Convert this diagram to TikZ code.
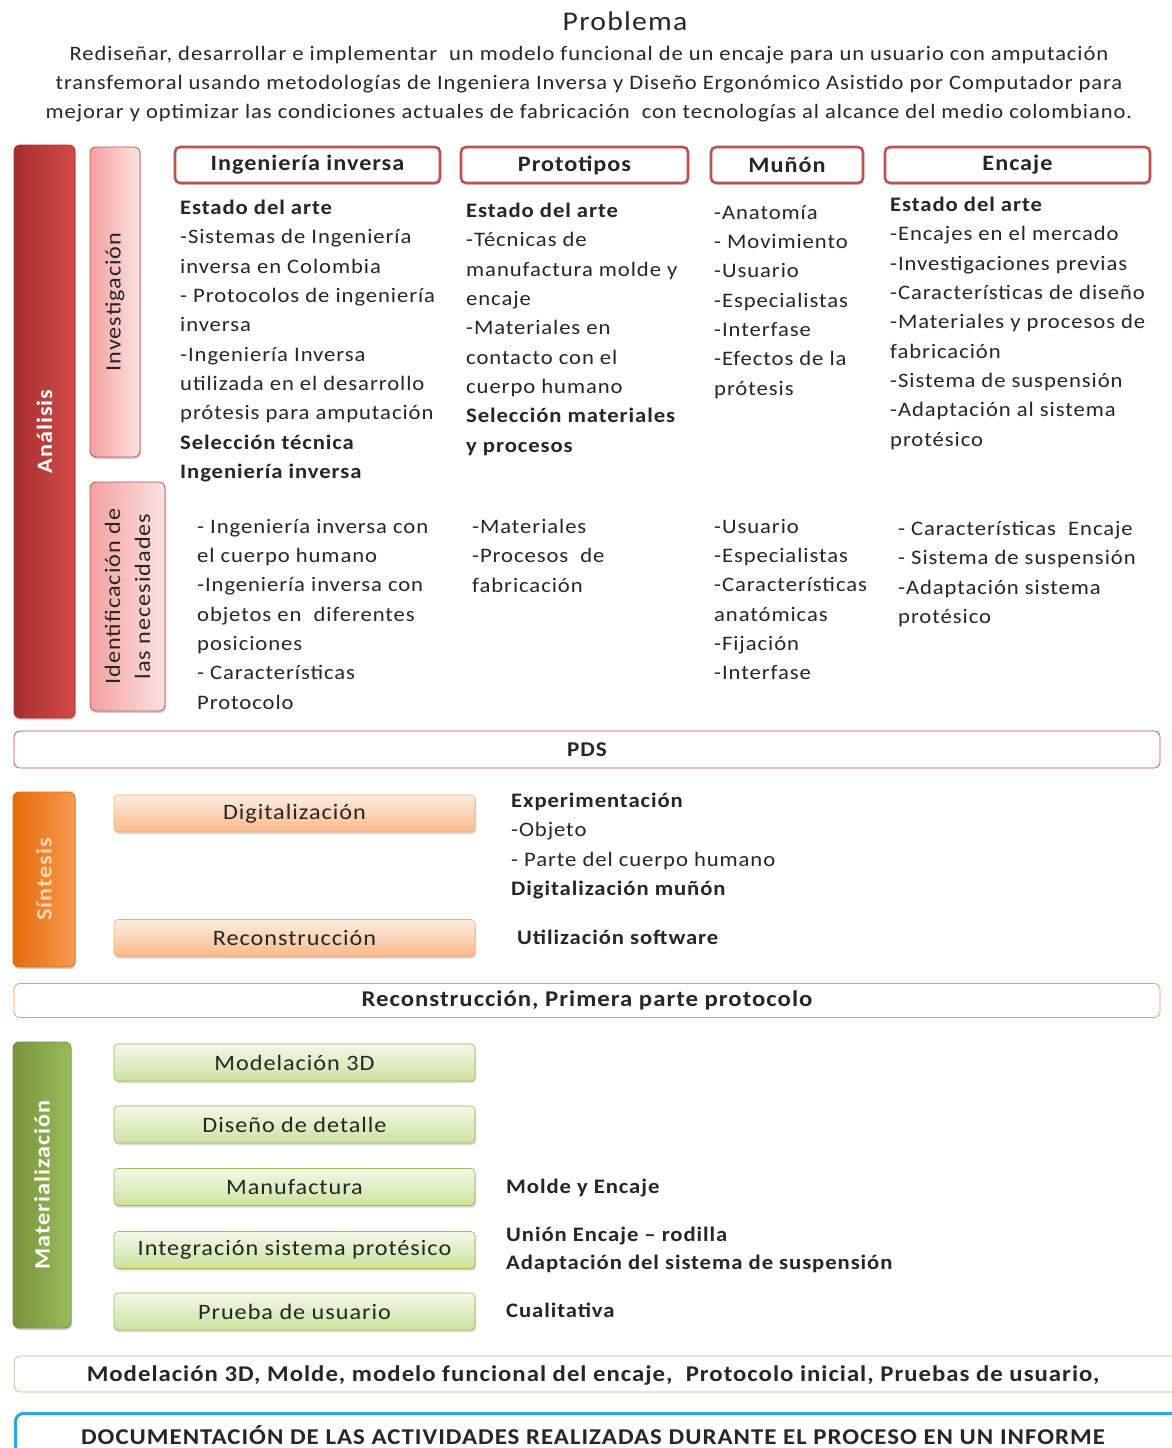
\documentclass[tikz,border=0pt]{standalone}
\usepackage{fontspec}
\setmainfont{Carlito}[FakeStretch=1.1, LetterSpace=4.5]
\usetikzlibrary{shadows}

\definecolor{txt}{HTML}{262626}
\definecolor{redD}{HTML}{A52F2D}
\definecolor{redM}{HTML}{D24C49}
\definecolor{redB}{HTML}{C0504D}
\definecolor{pinkL}{HTML}{FCE2E2}
\definecolor{pinkD}{HTML}{F4A0A0}
\definecolor{orD}{HTML}{E46C0A}
\definecolor{orM}{HTML}{F99A4E}
\definecolor{orT}{HTML}{FCD5B4}
\definecolor{peachL}{HTML}{FDEEE2}
\definecolor{peachD}{HTML}{FAB98A}
\definecolor{grD}{HTML}{77933C}
\definecolor{grM}{HTML}{9BBB59}
\definecolor{limeL}{HTML}{F4F9E8}
\definecolor{limeD}{HTML}{CCE2A0}
\definecolor{blueB}{HTML}{2AA7DE}

\tikzset{
  x=1pt, y=-1pt,
  every node/.style={text=txt, inner sep=0pt},
  body/.style={font=\fontsize{20.6}{29.3}\selectfont, align=left, anchor=north west},
  phasebar/.style={draw=#1, rounded corners=6pt, line width=0.8pt,
    drop shadow={opacity=0.35, shadow xshift=1pt, shadow yshift=-2pt}},
  phaselabel/.style={rotate=90, font=\fontsize{22}{26}\selectfont\bfseries},
  headbox/.style={draw=redB, line width=2.6pt, fill=white, rounded corners=5pt,
    minimum height=36pt, font=\fontsize{22}{26}\selectfont\bfseries,
    drop shadow={opacity=0.3, shadow xshift=1pt, shadow yshift=-2pt}},
  peachbox/.style={draw=orM!80, line width=0.6pt, rounded corners=4pt,
    top color=peachL, bottom color=peachD, minimum width=361pt, minimum height=37pt,
    font=\fontsize{22}{26}\selectfont,
    drop shadow={opacity=0.3, shadow xshift=1pt, shadow yshift=-2pt}},
  limebox/.style={draw=grM, line width=0.6pt, rounded corners=4pt,
    top color=limeL, bottom color=limeD, minimum width=361pt, minimum height=37pt,
    font=\fontsize{22}{26}\selectfont,
    drop shadow={opacity=0.3, shadow xshift=1pt, shadow yshift=-2pt}},
  sumbar/.style={draw=#1, line width=0.7pt, fill=white, rounded corners=6pt,
    font=\fontsize{22.5}{26}\selectfont\bfseries},
}

\begin{document}
\begin{tikzpicture}
\useasboundingbox[fill=white] (0,0) rectangle (1172,1448);

% Problem statement
\node[font=\fontsize{27}{30}\selectfont] (title) at (625,21) {Problema};
\node[font=\fontsize{20.5}{29}\selectfont, align=center] (problem) at (589,84)
  {Rediseñar, desarrollar e implementar\ \ un modelo funcional de un encaje para un usuario con amputación\\
   transfemoral usando metodologías de Ingeniera Inversa y Diseño Ergonómico Asistido por Computador para\\
   mejorar y optimizar las condiciones actuales de fabricación\ \ con tecnologías al alcance del medio colombiano.};

% ---------------- Análisis ----------------
\node[phasebar=redD, left color=redD, right color=redM,
      minimum width=61pt, minimum height=573pt] (analisis) at (44.5,431.5) {};
\node[phaselabel, text=white] (analisisT) at (analisis.center) {Análisis};

\node[phasebar=redB, left color=pinkD, right color=pinkL,
      minimum width=50pt, minimum height=310pt] (invest) at (115,302) {};
\node[rotate=90, font=\fontsize{22}{26}\selectfont] (investT) at (invest.center) {Investigación};

\node[phasebar=redB, left color=pinkD, right color=pinkL,
      minimum width=75pt, minimum height=229pt] (ident) at (127.5,596.5) {};
\node[rotate=90, font=\fontsize{22}{30}\selectfont, align=center] (identT) at (ident.center)
  {Identificación de\\las necesidades};

% column headers
\node[headbox, minimum width=265pt] (hIng) at (307.5,165) {Ingeniería inversa};
\node[headbox, minimum width=227pt] (hProt) at (574.5,165) {Prototipos};
\node[headbox, minimum width=152pt] (hMun) at (787,165) {Muñón};
\node[headbox, minimum width=265pt] (hEnc) at (1017.5,165) {Encaje};

% research contents
\node[body] (rIng) at (180,200) {\textbf{Estado del arte}\\
  -Sistemas de Ingeniería\\
  inversa en Colombia\\
  - Protocolos de ingeniería\\
  inversa\\
  -Ingeniería Inversa\\
  utilizada en el desarrollo\\
  prótesis para amputación\\
  \textbf{Selección técnica}\\
  \textbf{Ingeniería inversa}};
\node[body] (rProt) at (466,203) {\textbf{Estado del arte}\\
  -Técnicas de\\
  manufactura molde y\\
  encaje\\
  -Materiales en\\
  contacto con el\\
  cuerpo humano\\
  \textbf{Selección materiales}\\
  \textbf{y procesos}};
\node[body] (rMun) at (714,205) {-Anatomía\\
  - Movimiento\\
  -Usuario\\
  -Especialistas\\
  -Interfase\\
  -Efectos de la\\
  prótesis};
\node[body] (rEnc) at (890,197) {\textbf{Estado del arte}\\
  -Encajes en el mercado\\
  -Investigaciones previas\\
  -Características de diseño\\
  -Materiales y procesos de\\
  fabricación\\
  -Sistema de suspensión\\
  -Adaptación al sistema\\
  protésico};

% needs contents
\node[body] (nIng) at (197,519) {- Ingeniería inversa con\\
  el cuerpo humano\\
  -Ingeniería inversa con\\
  objetos en\ \ diferentes\\
  posiciones\\
  - Características\\
  Protocolo};
\node[body] (nProt) at (472,519) {-Materiales\\
  -Procesos\ \ de\\
  fabricación};
\node[body] (nMun) at (714,519) {-Usuario\\
  -Especialistas\\
  -Características\\
  anatómicas\\
  -Fijación\\
  -Interfase};
\node[body] (nEnc) at (898,521) {- Características\ \ Encaje\\
  - Sistema de suspensión\\
  -Adaptación sistema\\
  protésico};

\node[sumbar=redB, minimum width=1146pt, minimum height=37pt, font=\fontsize{21}{25}\selectfont\bfseries] (pds) at (587,749.5) {PDS};

% ---------------- Síntesis ----------------
\node[phasebar=orD, left color=orD, right color=orM,
      minimum width=62pt, minimum height=175pt] (sintesis) at (44,879.5) {};
\node[phaselabel, text=orT] (sintesisT) at (sintesis.center) {Síntesis};

\node[peachbox] (digit) at (294.5,813.5) {Digitalización};
\node[peachbox] (recon) at (294.5,938) {Reconstrucción};

\node[body] (digitT) at (511,793) {\textbf{Experimentación}\\
  -Objeto\\
  - Parte del cuerpo humano\\
  \textbf{Digitalización muñón}};
\node[body, font=\fontsize{20.6}{29.3}\selectfont\bfseries] (reconT) at (517,930) {Utilización software};

\node[sumbar=orM, minimum width=1146pt, minimum height=34pt] (reconbar) at (587,1000.5)
  {Reconstrucción, Primera parte protocolo};

% ---------------- Materialización ----------------
\node[phasebar=grD, left color=grD, right color=grM,
      minimum width=58pt, minimum height=286pt] (mater) at (42,1185) {};
\node[phaselabel, text=white] (materT) at (mater.center) {Materialización};

\node[limebox] (mod) at (294.5,1062.5) {Modelación 3D};
\node[limebox] (dis) at (294.5,1124.5) {Diseño de detalle};
\node[limebox] (man) at (294.5,1187) {Manufactura};
\node[limebox] (integ) at (294.5,1250) {Integración sistema protésico};
\node[limebox] (prueba) at (294.5,1311.5) {Prueba de usuario};

\node[body, font=\fontsize{20.6}{29.3}\selectfont\bfseries] (manT) at (506,1179) {Molde y Encaje};
\node[body, font=\fontsize{20.6}{28}\selectfont\bfseries] (integT) at (506,1227)
  {Unión Encaje – rodilla\\Adaptación del sistema de suspensión};
\node[body, font=\fontsize{20.6}{29.3}\selectfont\bfseries] (pruebaT) at (506,1303) {Cualitativa};

\node[sumbar=grM!80, minimum width=1166pt, minimum height=36pt, anchor=west] (matbar) at (14,1374) {};
\node[font=\fontsize{22.5}{26}\selectfont\bfseries] (matbarT) at (593,1375)
  {Modelación 3D, Molde, modelo funcional del encaje,\ \ Protocolo inicial, Pruebas de usuario,};

% documentation
\node[draw=blueB, line width=3pt, fill=white, rounded corners=8pt,
      minimum width=1170pt, minimum height=56pt, anchor=north west] (doc) at (14,1412) {};
\node[font=\fontsize{22.6}{26}\selectfont\bfseries] (docT) at (593,1435)
  {DOCUMENTACIÓN DE LAS ACTIVIDADES REALIZADAS DURANTE EL PROCESO EN UN INFORME};
\end{tikzpicture}
\end{document}
